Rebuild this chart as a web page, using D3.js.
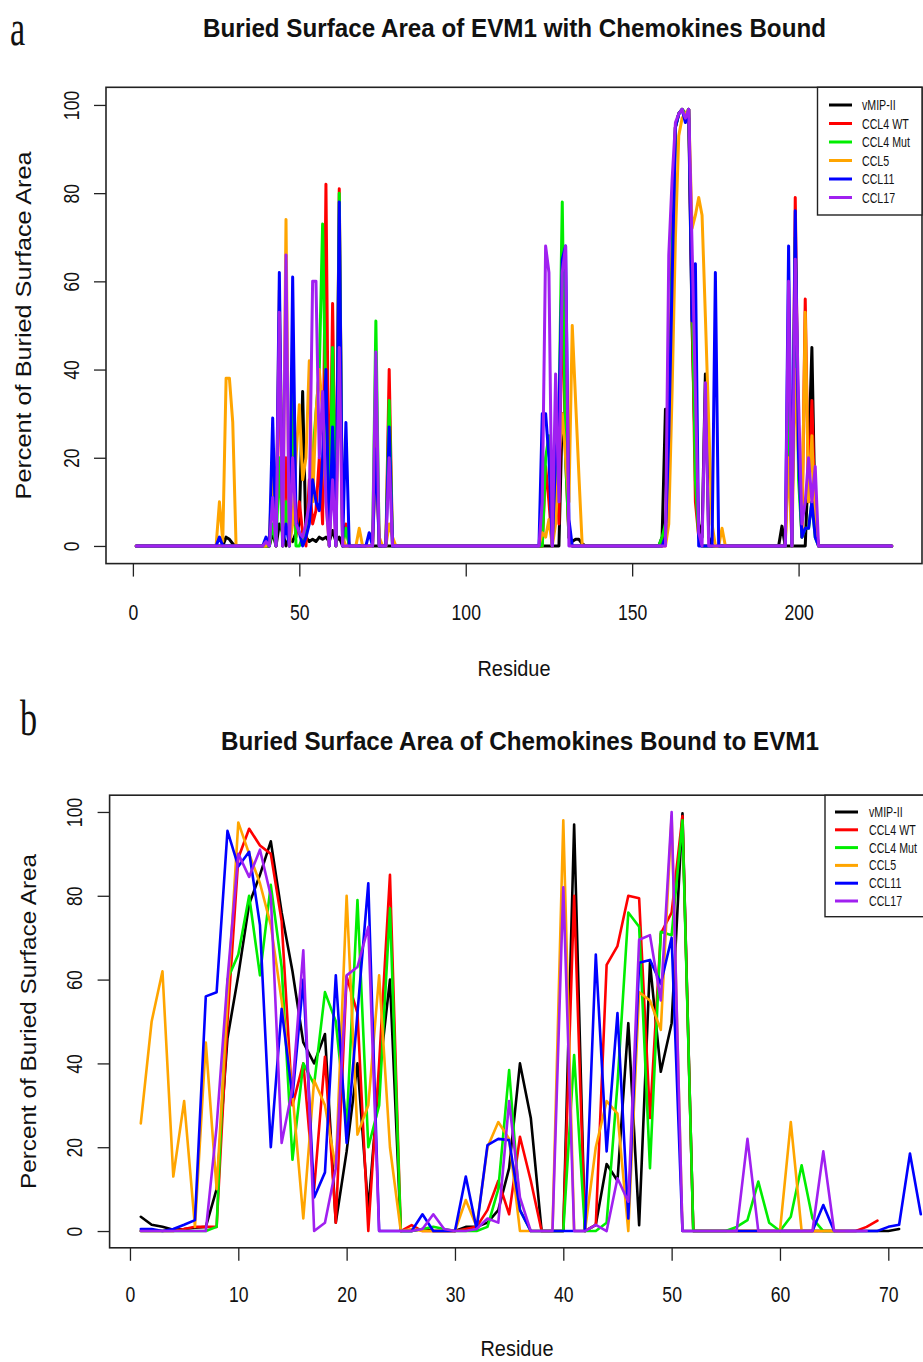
<!DOCTYPE html>
<html><head><meta charset="utf-8">
<script src="https://cdn.jsdelivr.net/npm/d3@7"></script>
<style>body{margin:0;background:#fff} svg{display:block}</style>
</head><body><svg id="c" width="923" height="1362"></svg>
<script>
const seriesNames = ["vMIP-II","CCL4 WT","CCL4 Mut","CCL5","CCL11","CCL17"];
const seriesColors = ["#000000","#ff0000","#00ee00","#ffa500","#0000ff","#a020f0"];
const yTicks = [0,20,40,60,80,100];
const xTicksA = [0,50,100,150,200];
const xTicksB = [0,10,20,30,40,50,60,70];
const residueCountA = 228;

// Panel a: non-zero (or explicitly read) values by residue; unlisted residues read as 0
const aVMIP = {28:2,29:1.5,30:0.5,42:3,44:5,45:3,47:2,48:1,49:3,50:5,51:35,52:2,53:1,54:1.5,55:1,56:2,57:1.5,58:2,59:1,60:3.5,61:1,62:2,
  129:30,130:28,131:2,132:1,133:1.5,134:1.5,135:0.5,159:2,160:31,161:22,162:60,163:95,164:98,165:99,166:98,167:97,168:50,169:20,170:5,171:2,172:39,173:2,
  195:4.5,203:20,204:45,205:5};
const aCCL4WT = {42:12,44:47,46:20,48:30,49:2,50:10,51:3,53:15,54:5,55:8,56:20,57:5,58:82,60:55,62:81,64:5,73:25,77:40,
  124:18,125:10,127:20,128:5,129:60,130:20,131:2,160:3,161:20,162:70,163:95,164:98,165:99,166:98,167:99,168:55,169:10,170:2,
  197:30,199:79,200:20,201:2,202:56,203:10,204:33,205:5};
const aCCL4Mut = {42:5,44:20,46:10,48:40,51:2,52:3,53:10,54:20,55:30,56:40,57:73,58:30,60:45,62:80,64:4,73:51,77:33,
  124:20,125:25,127:15,128:30,129:78,130:20,131:2,159:2,160:5,161:15,162:65,163:95,164:98,165:99,166:98,167:99,168:60,169:15,170:2,
  197:40,199:70,200:15,201:2,202:4,203:4,204:10,205:2};
const aCCL5 = {26:10,27:1,28:38,29:38,30:28,41:2,42:18,44:58,46:74,48:5,49:20,50:32,51:15,52:20,53:42,54:10,55:30,56:40,57:30,58:10,60:20,62:50,63:2,68:4,
  73:20,74:2,77:5,78:2,123:3,124:2,125:6,127:5,128:20,129:30,130:20,131:10,132:50,133:33,134:16,
  161:5,162:35,163:70,164:93,165:97,166:98,167:99,168:72,169:75,170:79,171:75,172:52,173:28,174:5,177:4,
  197:20,199:40,200:20,201:5,202:53,203:10,204:25,205:3};
const aCCL11 = {26:2,40:2,42:29,44:62,46:5,48:61,49:6,50:3,52:2,53:5,54:15,55:10,56:8,57:20,58:40,60:27,62:78,64:28,71:3,73:22,77:27,
  123:30,124:30,125:20,127:20,128:30,129:65,130:68,131:6,160:2,161:25,162:60,163:95,164:98,165:99,166:96,167:99,168:51,169:64,175:62,
  197:68,199:76,200:20,201:2,202:4,203:4,204:10,205:2};
const aCCL17 = {40:1,42:11,44:53,46:66,48:20,49:5,50:3,51:2,52:5,53:10,54:60,55:60,56:20,57:35,58:10,60:15,62:45,73:44,77:20,
  123:10,124:68,125:62,127:39,128:10,129:62,130:68,161:66,162:83,163:96,164:98,165:99,166:97,167:99,168:68,169:35,170:3,172:37,
  197:60,199:65,200:33,201:5,202:10,203:20,204:10,205:18};

// Panel b: values for residues 1..n
const bVMIP = [3.4,1.5,1,0.3,0.5,0.8,1,10,46,61, 78,85,93,76,62,45,40,47,2,19, 40,5,37,60,0,0,0.5,0,0,0, 1,1,2,5,15,40,27,0,0,0,
  97,0,1.5,16,12,49.6,1.4,64,38,49.6, 99.7,0,0,0,0,0,0,0,0,0, 0,0,0,0,0,0,0,0,0,0,0.5];
const bCCL4WT = [0,0,0,0,0.5,1,1,1,50,89, 96,92,90,74,30,40,10,41.6,2,60.7, 52,0,40,85,0,1.4,0,0,0,0, 0.5,1,5,12,4,22.5,12,0,0,0,
  80,0,1.5,63.5,68,80,79.4,27,71,76, 99,0,0,0,0,0,0,0,0,0, 0,0,0,0,0,0,0,1,2.5];
const bCCL4Mut = [0,0,0,0,0,0,0,1,60,66, 80,61,82.6,63,17,40,35,57,50,25, 79,20,30,77,0,0,0.5,1,0.5,0, 0,0,1,10,38.4,5,0,0,0,0,
  42,0,0,2,35,76,72.6,15,71.4,70.6, 98,0,0,0,0,1,2.6,11.8,2,0, 3.4,15.7,3,0,0];
const bCCL5 = [25.7,50,62,13,31,1,45,10,55,97.5, 90,83,73,55,33,3,36,30,15,80, 23,30,61,20,0,0.5,0,0,0,0, 7.4,1,20,26,22,0,0,0,0,98,
  0,0,20,31,28,0,57,55,48,99, 0,0,0,0,0,0,0,0,0,0, 26,0,0,0,0,0];
const bCCL11 = [0.5,0.5,0,0.5,1.5,2.6,56,57,95.5,87, 90.5,73,20,53,32,60,8,14,61,21, 52,83,0,0,0,0,4,0,0,0, 13,0.5,20.5,22,21.7,5,0,0,0,0,
  0,0,66,19,52,3,64,64.7,59,70, 0,0,0,0,0,0,0,0,0,0, 0,0,0,6.2,0,0,0,0,0,1, 1.5,18.5,4];
const bCCL17 = [0,0,0,0,0,0,0,25,60,90, 84.5,91,80,21,34,67,0,2,15,61, 63,72.6,0,0,0,0,0.5,4,0.5,0, 0,0.5,3,2,31,8,0,0,0,82,
  0,0,1.5,0,12.6,7,69.5,70.6,55,100, 0,0,0,0,0,0,22,0,0,0, 0,0,0,19,0,0,0,0];

const svg = d3.select("#c");
const FONT = "'Liberation Sans', Arial, Helvetica, sans-serif";

function condense(sel, f){
  sel.each(function(){
    const len = this.getComputedTextLength();
    this.setAttribute("textLength", len*f);
    this.setAttribute("lengthAdjust","spacingAndGlyphs");
  });
}

function drawPanel(cfg){
  const g = svg.append("g");
  const x = d3.scaleLinear().domain(cfg.xDomain).range([cfg.left, cfg.right]);
  const y = d3.scaleLinear().domain([-4,104]).range([cfg.bottom, cfg.top]);

  const line = d3.line().x(d=>x(d[0])).y(d=>y(d[1])).curve(d3.curveLinear);
  cfg.series.forEach((vals,i)=>{
    const pts = vals.map((v,k)=>[k+1, v]);
    g.append("path").attr("d", line(pts)).attr("fill","none")
      .attr("stroke", seriesColors[i]).attr("stroke-width", cfg.lw)
      .attr("stroke-linejoin","round").attr("stroke-linecap","round");
  });

  g.append("rect").attr("x",cfg.left).attr("y",cfg.top)
    .attr("width",cfg.right-cfg.left).attr("height",cfg.bottom-cfg.top)
    .attr("fill","none").attr("stroke","#222").attr("stroke-width",1.6);

  // x axis
  const xa = g.append("g").attr("transform",`translate(0,${cfg.bottom})`)
    .call(d3.axisBottom(x).tickValues(cfg.xTicks).tickSize(13).tickFormat(d3.format("d")));
  xa.select(".domain").remove();
  xa.selectAll(".tick line").attr("stroke","#222").attr("stroke-width",1.3);
  xa.selectAll(".tick text").attr("y", cfg.xLabelBase - cfg.bottom).attr("dy",null)
    .attr("font-family",FONT).attr("font-size",22).attr("fill","#111");
  condense(xa.selectAll(".tick text"), 0.8);

  // y axis
  const ya = g.append("g").attr("transform",`translate(${cfg.left},0)`)
    .call(d3.axisLeft(y).tickValues(yTicks).tickSize(12).tickFormat(d3.format("d")));
  ya.select(".domain").remove();
  ya.selectAll(".tick line").attr("stroke","#222").attr("stroke-width",1.3);
  ya.selectAll(".tick text").attr("x",null).attr("dy",null)
    .attr("transform",`translate(${cfg.yLabelBase - cfg.left},0) rotate(-90)`)
    .attr("text-anchor","middle").attr("font-family",FONT).attr("font-size",22).attr("fill","#111");
  condense(ya.selectAll(".tick text"), 0.8);

  // titles and labels
  g.append("text").attr("x",cfg.titleX).attr("y",cfg.titleY).attr("text-anchor","middle")
    .attr("font-family",FONT).attr("font-weight","bold").attr("font-size",26).attr("fill","#111")
    .attr("textLength",cfg.titleW).attr("lengthAdjust","spacingAndGlyphs").text(cfg.title);
  g.append("text").attr("transform",`translate(${cfg.ylabX},${(cfg.top+cfg.bottom)/2}) rotate(-90)`)
    .attr("text-anchor","middle").attr("font-family",FONT).attr("font-size",22).attr("fill","#111")
    .attr("textLength",cfg.ylabW).attr("lengthAdjust","spacingAndGlyphs").text("Percent of Buried Surface Area");
  g.append("text").attr("x",cfg.xlabX).attr("y",cfg.xlabY).attr("text-anchor","middle")
    .attr("font-family",FONT).attr("font-size",22).attr("fill","#111")
    .attr("textLength",73).attr("lengthAdjust","spacingAndGlyphs").text("Residue");

  // legend
  const L = cfg.legend;
  g.append("rect").attr("x",L.x).attr("y",cfg.top).attr("width",cfg.right-L.x).attr("height",L.h)
    .attr("fill","#fff").attr("stroke","#222").attr("stroke-width",1.4);
  seriesNames.forEach((n,i)=>{
    const yy = L.y0 + i*L.dy;
    g.append("line").attr("x1",L.lx1).attr("x2",L.lx2).attr("y1",yy).attr("y2",yy)
      .attr("stroke",seriesColors[i]).attr("stroke-width",3);
    g.append("text").attr("transform",`translate(${L.tx},${yy+5}) scale(0.76,1)`)
      .attr("font-family",FONT).attr("font-size",14).attr("fill","#111").text(n);
  });

  // panel letter
  g.append("text").attr("transform",`translate(${cfg.letterX},${cfg.letterY}) scale(0.9,1.35)`)
    .attr("font-family","'Liberation Serif', 'Times New Roman', serif").attr("font-size",38)
    .attr("fill","#111").text(cfg.letter);
}

function dense(sparse, n){
  return d3.range(1, n+1).map(r => sparse[r] !== undefined ? sparse[r] : 0);
}

drawPanel({
  series: [aVMIP,aCCL4WT,aCCL4Mut,aCCL5,aCCL11,aCCL17].map(s=>dense(s, residueCountA)),
  xDomain: [-8.08, 237.08], left: 106, right: 922, top: 87.3, bottom: 563.6,
  xTicks: xTicksA, lw: 3, xLabelBase: 620, yLabelBase: 79,
  title: "Buried Surface Area of EVM1 with Chemokines Bound", titleX: 514.5, titleY: 37, titleW: 623,
  ylabX: 31, ylabW: 348, xlabX: 514, xlabY: 676,
  legend: {x: 817.5, h: 127.7, y0: 105, dy: 18.5, lx1: 829, lx2: 852, tx: 862},
  letter: "a", letterX: 10, letterY: 45
});

drawPanel({
  series: [bVMIP,bCCL4WT,bCCL4Mut,bCCL5,bCCL11,bCCL17],
  xDomain: [-1.88, 75.88], left: 109.6, right: 952, top: 795.2, bottom: 1247.8,
  xTicks: xTicksB, lw: 2.6, xLabelBase: 1302, yLabelBase: 82,
  title: "Buried Surface Area of Chemokines Bound to EVM1", titleX: 520, titleY: 750, titleW: 598,
  ylabX: 36, ylabW: 335, xlabX: 517, xlabY: 1356,
  legend: {x: 825, h: 121.5, y0: 812, dy: 17.8, lx1: 835, lx2: 858, tx: 869},
  letter: "b", letterX: 20, letterY: 735
});
</script></body></html>
